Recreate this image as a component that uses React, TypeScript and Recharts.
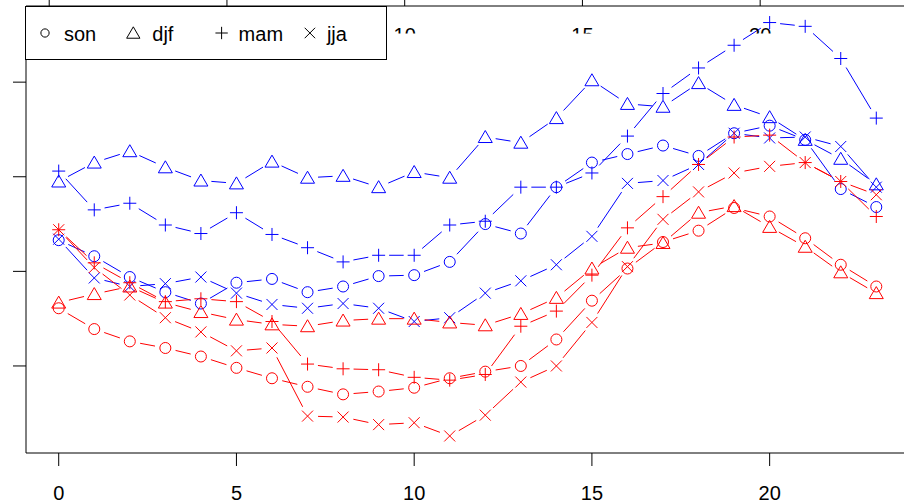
import { LineChart, Line, XAxis, YAxis } from "recharts";

const hours = [0, 1, 2, 3, 4, 5, 6, 7, 8, 9, 10, 11, 12, 13, 14, 15, 16, 17, 18, 19, 20, 21, 22, 23];
const seasons = ["son", "djf", "mam", "jja"];
const xTicks = [0, 5, 10, 15, 20];
const yTicks = [1, 2, 3, 4];

const blueSon = [2.33, 2.16, 1.94, 1.78, 1.66, 1.88, 1.92, 1.78, 1.84, 1.95, 1.96, 2.1, 2.5, 2.4, 2.89, 3.15, 3.24, 3.33, 3.22, 3.46, 3.54, 3.39, 2.87, 2.68];
const blueDjf = [2.95, 3.15, 3.27, 3.1, 2.96, 2.93, 3.16, 2.99, 3.01, 2.89, 3.05, 2.99, 3.42, 3.36, 3.62, 4.02, 3.77, 3.74, 3.99, 3.76, 3.63, 3.39, 3.19, 2.92];
const blueMam = [3.06, 2.65, 2.72, 2.49, 2.4, 2.62, 2.39, 2.25, 2.1, 2.17, 2.17, 2.49, 2.53, 2.89, 2.89, 3.04, 3.43, 3.88, 4.15, 4.39, 4.63, 4.59, 4.25, 3.62];
const blueJja = [2.34, 1.93, 1.84, 1.87, 1.94, 1.77, 1.65, 1.61, 1.66, 1.61, 1.47, 1.51, 1.77, 1.9, 2.07, 2.37, 2.93, 2.96, 3.13, 3.46, 3.41, 3.42, 3.32, 2.89];
const redSon = [1.61, 1.39, 1.26, 1.19, 1.1, 0.98, 0.87, 0.78, 0.7, 0.73, 0.77, 0.87, 0.94, 1.0, 1.28, 1.69, 2.03, 2.31, 2.43, 2.67, 2.58, 2.35, 2.07, 1.84];
const redDjf = [1.67, 1.76, 1.84, 1.67, 1.57, 1.49, 1.44, 1.42, 1.48, 1.5, 1.5, 1.46, 1.43, 1.55, 1.72, 2.03, 2.25, 2.3, 2.62, 2.69, 2.47, 2.26, 1.99, 1.77];
const redMam = [2.44, 2.09, 1.88, 1.68, 1.71, 1.68, 1.47, 1.02, 0.97, 0.96, 0.88, 0.85, 0.91, 1.42, 1.58, 1.96, 2.46, 2.79, 3.13, 3.42, 3.44, 3.15, 2.95, 2.58];
const redJja = [2.44, 2.04, 1.75, 1.51, 1.36, 1.16, 1.19, 0.47, 0.46, 0.38, 0.4, 0.26, 0.48, 0.83, 1.0, 1.46, 2.05, 2.55, 2.84, 3.04, 3.11, 3.15, 2.95, 2.81];

const BLUE = "#0000ff";
const RED = "#ff0000";
const FONT = "'Liberation Sans', Arial, Helvetica, sans-serif";
const GAP = 10.5;

type Shape = "circle" | "triangle" | "plus" | "cross";
const shapes: Shape[] = ["circle", "triangle", "plus", "cross"];

const series = [
  { key: "blueSon", values: blueSon, color: BLUE, shape: shapes[0] },
  { key: "blueDjf", values: blueDjf, color: BLUE, shape: shapes[1] },
  { key: "blueMam", values: blueMam, color: BLUE, shape: shapes[2] },
  { key: "blueJja", values: blueJja, color: BLUE, shape: shapes[3] },
  { key: "redSon", values: redSon, color: RED, shape: shapes[0] },
  { key: "redDjf", values: redDjf, color: RED, shape: shapes[1] },
  { key: "redMam", values: redMam, color: RED, shape: shapes[2] },
  { key: "redJja", values: redJja, color: RED, shape: shapes[3] },
];

const data = hours.map((hour, i) => {
  const row: Record<string, number> = { hour };
  series.forEach((s) => (row[s.key] = s.values[i]));
  return row;
});

function Marker({ shape, cx, cy, color, k = 1 }: { shape: Shape; cx: number; cy: number; color: string; k?: number }) {
  const common = { stroke: color, strokeWidth: 1, fill: "none" };
  if (shape === "circle") return <circle cx={cx} cy={cy} r={5.5 * k} {...common} />;
  if (shape === "triangle")
    return (
      <polygon
        points={`${cx},${cy - 6.5 * k} ${cx - 7 * k},${cy + 5.5 * k} ${cx + 7 * k},${cy + 5.5 * k}`}
        {...common}
      />
    );
  if (shape === "plus") {
    const a = 6.5 * k;
    return <path d={`M${cx - a},${cy}H${cx + a}M${cx},${cy - a}V${cy + a}`} {...common} />;
  }
  const a = 5.5 * k;
  return <path d={`M${cx - a},${cy - a}L${cx + a},${cy + a}M${cx - a},${cy + a}L${cx + a},${cy - a}`} {...common} />;
}

// R type="b": marker plus a segment to the next point, with a gap round each point
function makeDot(shape: Shape, color: string) {
  return (props: any) => {
    const { cx, cy, index, points } = props;
    const next = points && points[index + 1];
    let seg = null;
    if (next) {
      const dx = next.x - cx;
      const dy = next.y - cy;
      const len = Math.hypot(dx, dy);
      if (len > 2 * GAP) {
        const ux = dx / len;
        const uy = dy / len;
        seg = (
          <line
            x1={cx + ux * GAP}
            y1={cy + uy * GAP}
            x2={next.x - ux * GAP}
            y2={next.y - uy * GAP}
            stroke={color}
            strokeWidth={1}
          />
        );
      }
    }
    return (
      <g key={`dot-${index}`}>
        {seg}
        <Marker shape={shape} cx={cx} cy={cy} color={color} />
      </g>
    );
  };
}

const TopTick = (props: any) => {
  const { x, payload, index } = props;
  const id = `top-clip-${index}`;
  return (
    <g>
      <clipPath id={id}>
        <rect x={x - 25} y={0} width={50} height={33.5} />
      </clipPath>
      <text x={x} y={42} textAnchor="middle" fontSize={20} fontFamily={FONT} fill="#000" clipPath={`url(#${id})`}>
        {payload.value}
      </text>
    </g>
  );
};

function LegendBox() {
  return (
    <svg width={364} height={56} style={{ position: "absolute", left: 25, top: 6 }}>
      <rect x={0.5} y={0.5} width={361} height={53} fill="#fff" stroke="#000" strokeWidth={1} />
      {seasons.map((name, i) => (
        <g key={name}>
          <Marker shape={shapes[i]} cx={20 + i * 88.3} cy={27} color="#000" k={i === 0 ? 0.75 : 0.95} />
          <text x={39 + i * 88.3 - (i > 1 ? 2 : 0)} y={34.5} fontSize={20} fontFamily={FONT} fill="#000">
            {name}
          </text>
        </g>
      ))}
    </svg>
  );
}

export default function App() {
  return (
    <div
      style={{
        position: "fixed",
        left: 0,
        top: 0,
        width: 904,
        height: 503,
        overflow: "hidden",
        background: "#fff",
      }}
    >
      <LineChart width={930} height={503} data={data} margin={{ top: 5, right: 21, bottom: 0, left: 25 }}>
        <XAxis
          dataKey="hour"
          type="number"
          domain={[-0.92, 23.92]}
          ticks={xTicks}
          height={50}
          tickSize={13}
          tickMargin={20}
          axisLine={{ stroke: "#000" }}
          tickLine={{ stroke: "#000" }}
          tick={{ fontSize: 20, fill: "#000", fontFamily: FONT }}
        />
        <XAxis
          xAxisId="top"
          orientation="top"
          dataKey="hour"
          type="number"
          domain={[-0.653, 24.187]}
          ticks={xTicks}
          height={1}
          tickSize={6}
          axisLine={{ stroke: "#000" }}
          tickLine={{ stroke: "#000" }}
          tick={<TopTick />}
        />
        <YAxis
          type="number"
          domain={[0.08, 4.805]}
          ticks={yTicks}
          width={1}
          tickSize={13}
          axisLine={{ stroke: "#000" }}
          tickLine={{ stroke: "#000" }}
          tickFormatter={() => ""}
        />
        {series.map((s) => (
          <Line
            key={s.key}
            dataKey={s.key}
            stroke="none"
            dot={makeDot(s.shape, s.color)}
            activeDot={false}
            isAnimationActive={false}
            legendType="none"
          />
        ))}
      </LineChart>
      <LegendBox />
    </div>
  );
}
